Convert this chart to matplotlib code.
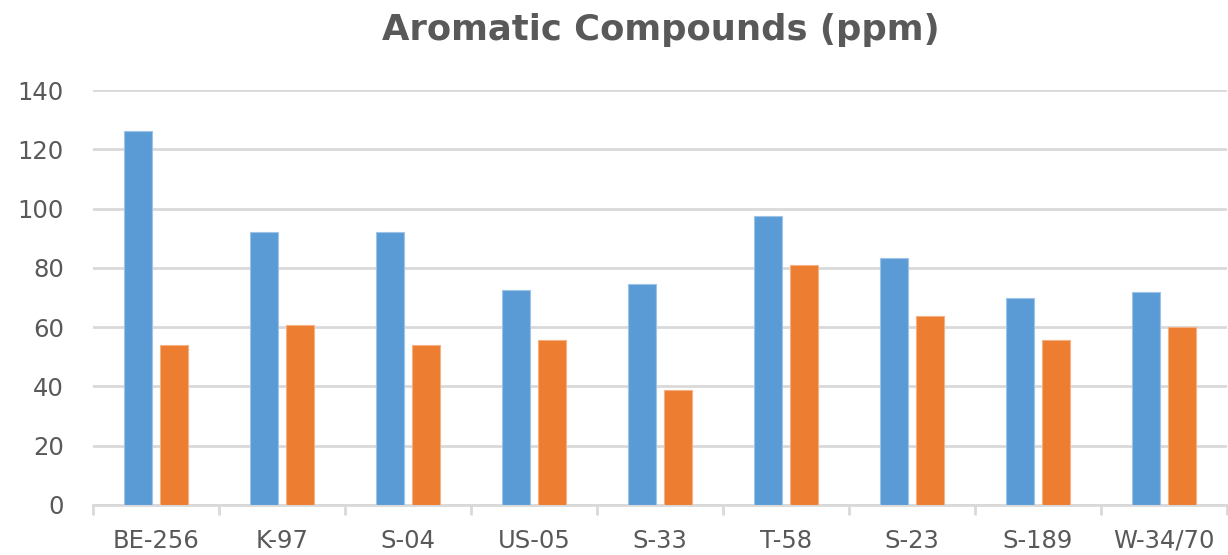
import matplotlib
matplotlib.use("Agg")
import matplotlib.pyplot as plt
import numpy as np

categories = ["BE-256", "K-97", "S-04", "US-05", "S-33", "T-58", "S-23", "S-189", "W-34/70"]
series_a = [126.3, 92, 92, 72.6, 74.5, 97.4, 83.4, 70, 72]
series_b = [54, 60.6, 54, 55.8, 38.9, 80.9, 63.9, 55.8, 60]
yticks = [0, 20, 40, 60, 80, 100, 120, 140]

blue = "#5B9BD5"
orange = "#ED7D31"
grid_c = "#D9D9D9"
text_c = "#595959"

fig = plt.figure(figsize=(12.28, 5.55), dpi=100)
ax = fig.add_axes([93/1228, 1 - 505/555, (1227-93)/1228, (505-90)/555])

x = np.arange(len(categories))
w = 0.225
off = 0.145
ax.bar(x - off, series_a, width=w, color=blue, edgecolor="#9DC3E6", linewidth=0.8, zorder=3)
ax.bar(x + off, series_b, width=w, color=orange, edgecolor="#F4B183", linewidth=0.8, zorder=3)

ax.set_xlim(-0.5, len(categories) - 0.5)
ax.set_ylim(0, 140)
ax.set_yticks(yticks)
ax.set_yticklabels([str(t) for t in yticks])
ax.yaxis.grid(True, color=grid_c, linewidth=2, zorder=0)
ax.set_axisbelow(True)

ax.set_xticks(x)
ax.set_xticklabels(categories)
ax.tick_params(axis="x", which="major", length=0, pad=17, labelsize=17.5, labelcolor=text_c)
ax.set_xticks(np.arange(len(categories) + 1) - 0.5, minor=True)
ax.tick_params(axis="x", which="minor", length=7, width=2, color=grid_c)
ax.tick_params(axis="y", length=0, pad=21, labelsize=17.5, labelcolor=text_c)

for s in ["top", "right", "left"]:
    ax.spines[s].set_visible(False)
ax.spines["bottom"].set_color(grid_c)
ax.spines["bottom"].set_linewidth(2)

fig.text(661/1228, 1 - 30/555, "Aromatic Compounds (ppm)", ha="center", va="center",
         fontsize=25.5, fontweight="bold", color=text_c)

fig.savefig("out.png", dpi=100)
